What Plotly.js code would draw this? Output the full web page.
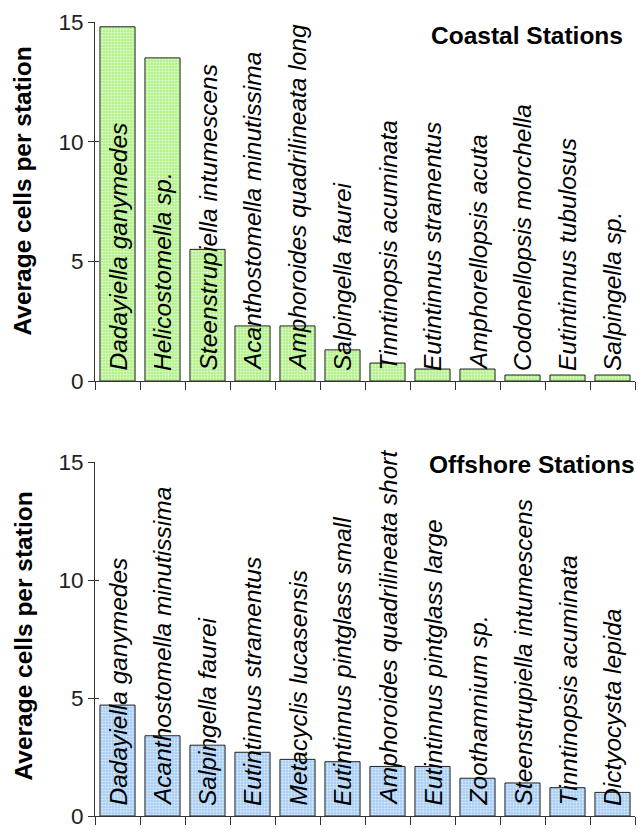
<!DOCTYPE html>
<html>
<head>
<meta charset="utf-8">
<script src="https://cdn.plot.ly/plotly-3.0.1.min.js"></script>
<style>
  html, body { margin: 0; padding: 0; background: #fff; }
  #chart { width: 638px; height: 831px; }
</style>
</head>
<body>
<div id="chart"></div>
<script>
// Tintinnid abundance, coastal vs offshore stations
const coastalSpecies = [
  'Dadayiella ganymedes', 'Helicostomella sp.', 'Steenstrupiella intumescens',
  'Acanthostomella minutissima', 'Amphoroides quadrilineata long', 'Salpingella faurei',
  'Tinntinopsis acuminata', 'Eutintinnus stramentus', 'Amphorellopsis acuta',
  'Codonellopsis morchella', 'Eutintinnus tubulosus', 'Salpingella sp.'
];
const coastalCells = [14.8, 13.5, 5.5, 2.3, 2.3, 1.3, 0.75, 0.5, 0.5, 0.25, 0.25, 0.25];

const offshoreSpecies = [
  'Dadayiella ganymedes', 'Acanthostomella minutissima', 'Salpingella faurei',
  'Eutintinnus stramentus', 'Metacyclis lucasensis', 'Eutintinnus pintglass small',
  'Amphoroides quadrilineata short', 'Eutintinnus pintglass large', 'Zoothamnium sp.',
  'Steenstrupiella intumescens', 'Tinntinopsis acuminata', 'Dictyocysta lepida'
];
const offshoreCells = [4.7, 3.4, 3.0, 2.7, 2.4, 2.3, 2.1, 2.1, 1.6, 1.4, 1.2, 1.0];

const yTicks = [0, 5, 10, 15];
const yTitle = 'Average cells per station';

const W = 638, H = 831;
const FONT = 'Liberation Sans, Arial, sans-serif';
const px = v => v / W;          // horizontal pixel -> paper fraction
const py = v => (H - v) / H;    // vertical pixel -> paper fraction

// plot-area pixel extents of the two panels
const TOP_PANEL = { top: 22, bottom: 381 };
const BOTTOM_PANEL = { top: 462, bottom: 816 };

function bars(names, vals, xa, ya, fill, dots) {
  return {
    type: 'bar', x: names, y: vals, xaxis: xa, yaxis: ya,
    marker: {
      color: fill,
      line: { color: '#222', width: 1 },
      pattern: { shape: '.', fgcolor: dots, bgcolor: fill, size: 3, solidity: 0.35 }
    },
    hoverinfo: 'x+y', showlegend: false
  };
}

// empty trace that lets the tick-stub axis get drawn
function stubHost(xa, ya) {
  return { type: 'scatter', x: [], y: [], xaxis: xa, yaxis: ya, showlegend: false, hoverinfo: 'skip' };
}

function labels(names, xref, yref) {
  return names.map(n => ({
    x: n, y: 0, xref: xref, yref: yref,
    text: n, textangle: -90, showarrow: false,
    xanchor: 'center', yanchor: 'bottom', yshift: 8,
    font: { family: FONT, size: 24.5, style: 'italic', color: '#000' }
  }));
}

function xAxis(anchor) {
  return {
    domain: [px(95), px(635)], anchor: anchor, type: 'category',
    tickson: 'boundaries', ticks: 'outside', ticklen: 8, tickwidth: 1, tickcolor: '#333',
    showticklabels: false, showline: true, linecolor: '#333', linewidth: 1,
    showgrid: false, zeroline: false, fixedrange: true
  };
}

function yAxis(anchor, p) {
  return {
    domain: [py(p.bottom), py(p.top)], anchor: anchor, range: [0, 15],
    tickvals: yTicks, ticktext: yTicks.map(String),
    ticks: 'outside', ticklen: 6, tickwidth: 1, tickcolor: '#333',
    tickfont: { family: FONT, size: 22.5, color: '#222' },
    ticklabeloverflow: 'allow',
    showline: true, linecolor: '#333', linewidth: 1,
    showgrid: false, zeroline: false, fixedrange: true
  };
}

// short inner tick stubs so the y ticks cross the axis line
function yStub(over, anchor, p) {
  return {
    overlaying: over, anchor: anchor, domain: [py(p.bottom), py(p.top)], range: [0, 15],
    tickvals: yTicks, ticks: 'inside', ticklen: 4, tickwidth: 1, tickcolor: '#333',
    showticklabels: false, showline: false, showgrid: false, zeroline: false, fixedrange: true
  };
}

const data = [
  bars(coastalSpecies, coastalCells, 'x', 'y', '#b2f08a', '#e4ffd2'),
  bars(offshoreSpecies, offshoreCells, 'x2', 'y2', '#a8cdf4', '#dcecff'),
  stubHost('x', 'y3'),
  stubHost('x2', 'y4')
];

const boldFont = { family: FONT, size: 24.5, weight: 'bold', color: '#000' };

const annotations = [
  ...labels(coastalSpecies, 'x', 'y'),
  ...labels(offshoreSpecies, 'x2', 'y2'),
  { text: 'Coastal Stations', xref: 'paper', yref: 'paper', x: px(625), y: py(36),
    xanchor: 'right', yanchor: 'middle', showarrow: false, font: boldFont },
  { text: 'Offshore Stations', xref: 'paper', yref: 'paper', x: px(637), y: py(465),
    xanchor: 'right', yanchor: 'middle', showarrow: false, font: boldFont },
  { text: yTitle, xref: 'paper', yref: 'paper', x: px(22.5), y: py(191),
    xanchor: 'center', yanchor: 'middle', textangle: -90, showarrow: false, font: boldFont },
  { text: yTitle, xref: 'paper', yref: 'paper', x: px(22.5), y: py(636),
    xanchor: 'center', yanchor: 'middle', textangle: -90, showarrow: false, font: boldFont }
];

const layout = {
  width: W, height: H,
  margin: { l: 0, r: 0, t: 0, b: 0 },
  paper_bgcolor: '#fff', plot_bgcolor: '#fff',
  bargap: 0.22,
  xaxis: xAxis('y'),
  yaxis: yAxis('x', TOP_PANEL),
  xaxis2: xAxis('y2'),
  yaxis2: yAxis('x2', BOTTOM_PANEL),
  yaxis3: yStub('y', 'x', TOP_PANEL),
  yaxis4: yStub('y2', 'x2', BOTTOM_PANEL),
  annotations: annotations,
  font: { family: FONT }
};

Plotly.newPlot('chart', data, layout, { displayModeBar: false, staticPlot: true });
</script>
</body>
</html>
